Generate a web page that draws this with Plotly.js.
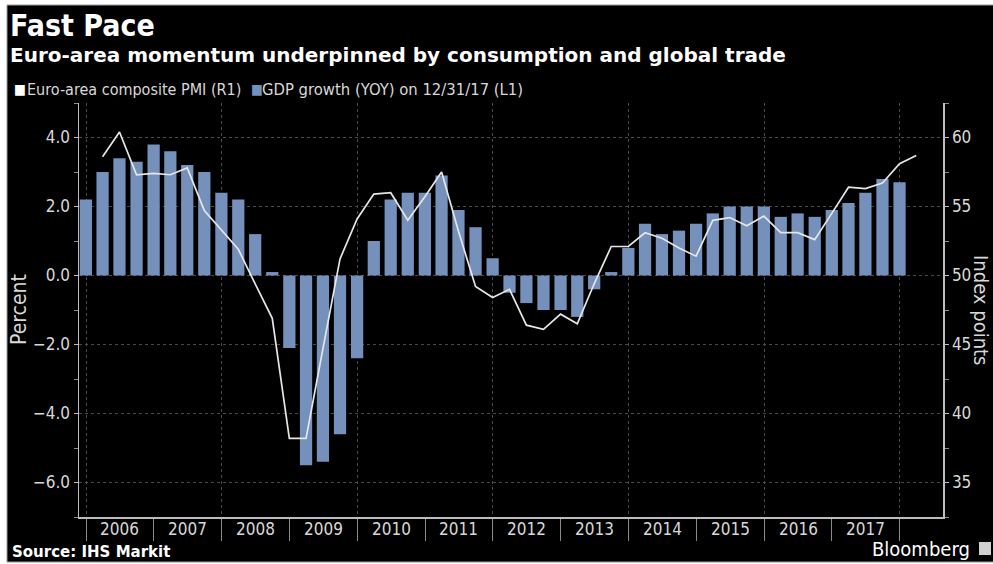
<!DOCTYPE html>
<html>
<head>
<meta charset="utf-8">
<script src="https://cdn.plot.ly/plotly-3.0.1.min.js"></script>
<style>html,body{margin:0;padding:0;background:#fff;}#chart{width:993px;height:564px;}</style>
</head>
<body>
<div id="chart"></div>
<script>
// Quarter-end dates (Q4 2005 .. Q1 2018)
const quarterEnds = [
  '2005-12-31',
  '2006-03-31','2006-06-30','2006-09-30','2006-12-31',
  '2007-03-31','2007-06-30','2007-09-30','2007-12-31',
  '2008-03-31','2008-06-30','2008-09-30','2008-12-31',
  '2009-03-31','2009-06-30','2009-09-30','2009-12-31',
  '2010-03-31','2010-06-30','2010-09-30','2010-12-31',
  '2011-03-31','2011-06-30','2011-09-30','2011-12-31',
  '2012-03-31','2012-06-30','2012-09-30','2012-12-31',
  '2013-03-31','2013-06-30','2013-09-30','2013-12-31',
  '2014-03-31','2014-06-30','2014-09-30','2014-12-31',
  '2015-03-31','2015-06-30','2015-09-30','2015-12-31',
  '2016-03-31','2016-06-30','2016-09-30','2016-12-31',
  '2017-03-31','2017-06-30','2017-09-30','2017-12-31',
  '2018-03-31'
];
const gdpDates = quarterEnds.slice(0, 49);
const pmiDates = quarterEnds.slice(1);

// GDP growth (YoY, %), Q4 2005 .. Q4 2017
const gdpGrowth = [
  2.2,
  3.0, 3.4, 3.3, 3.8,
  3.6, 3.2, 3.0, 2.4,
  2.2, 1.2, 0.1, -2.1,
  -5.5, -5.4, -4.6, -2.4,
  1.0, 2.2, 2.4, 2.4,
  2.9, 1.9, 1.4, 0.5,
  -0.5, -0.8, -1.0, -1.0,
  -1.2, -0.4, 0.1, 0.8,
  1.5, 1.2, 1.3, 1.5,
  1.8, 2.0, 2.0, 2.0,
  1.7, 1.8, 1.7, 1.9,
  2.1, 2.4, 2.8, 2.7
];

// Euro-area composite PMI (index points), Q1 2006 .. Q1 2018
const compositePMI = [
  58.6, 60.4, 57.3, 57.4,
  57.3, 57.8, 54.7, 53.3,
  51.9, 49.4, 46.9, 38.2,
  38.2, 44.7, 51.2, 54.1,
  55.9, 56.0, 54.0, 55.7,
  57.5, 53.2, 49.2, 48.4,
  49.0, 46.4, 46.1, 47.2,
  46.5, 49.4, 52.1, 52.1,
  53.1, 52.7, 52.0, 51.4,
  54.0, 54.2, 53.6, 54.3,
  53.1, 53.1, 52.6, 54.5,
  56.4, 56.3, 56.7, 58.1,
  58.7
];

// Year labels placed mid-period, tick marks at year boundaries
const yearLabels = ['2006','2007','2008','2009','2010','2011','2012','2013','2014','2015','2016','2017'];
const yearMidDates = ['2006-07-02','2007-07-02','2008-07-02','2009-07-02','2010-07-02','2011-07-02',
                      '2012-07-02','2013-07-02','2014-07-02','2015-07-02','2016-07-02','2017-07-02'];
const evenYearStarts = ['2006-01-01','2008-01-01','2010-01-01','2012-01-01','2014-01-01','2016-01-01','2018-01-01'];
const oddYearStarts = ['2007-01-01','2009-01-01','2011-01-01','2013-01-01','2015-01-01','2017-01-01'];

const BAR = '#7490bb';
const TXT = '#d8d8d8';
const GRID = '#4a4a4a';
const AXL = '#bdbdbd';
const FONT = '"DejaVu Sans Condensed", "DejaVu Sans", sans-serif';
const WIDE = '"DejaVu Sans", sans-serif';

const W = 993, H = 564, ML = 79, MR = 50, MT = 103, MB = 47;
const PW = W - ML - MR, PH = H - MT - MB;
const px = p => (p - ML) / PW;          // pixel x -> paper x
const py = p => (H - MB - p) / PH;      // pixel y -> paper y

const traces = [
  {
    type: 'bar', x: gdpDates, y: gdpGrowth, name: 'GDP growth (YOY) on 12/31/17 (L1)',
    marker: {color: BAR, line: {width: 0}}, width: 5.7e9, yaxis: 'y', hoverinfo: 'x+y'
  },
  {
    type: 'scatter', mode: 'lines', x: pmiDates, y: compositePMI, name: 'Euro-area composite PMI (R1)',
    line: {color: '#e6e6e6', width: 1.7}, yaxis: 'y2'
  }
];

const annotations = [
  {text: '<b>Fast Pace</b>', x: px(8), y: py(25), xref: 'paper', yref: 'paper', xanchor: 'left', yanchor: 'middle', showarrow: false,
   font: {family: FONT, size: 30, color: '#ffffff'}},
  {text: '<b>Euro-area momentum underpinned by consumption and global trade</b>', x: px(8), y: py(55), xref: 'paper', yref: 'paper',
   xanchor: 'left', yanchor: 'middle', showarrow: false, font: {family: WIDE, size: 20, color: '#ffffff'}},
  {text: '■', x: px(12), y: py(89), xref: 'paper', yref: 'paper', xanchor: 'left', yanchor: 'middle', showarrow: false,
   font: {family: FONT, size: 14, color: '#ffffff'}},
  {text: 'Euro-area composite PMI (R1)', x: px(25), y: py(89), xref: 'paper', yref: 'paper', xanchor: 'left', yanchor: 'middle', showarrow: false,
   font: {family: FONT, size: 16, color: TXT}},
  {text: '■', x: px(249), y: py(89), xref: 'paper', yref: 'paper', xanchor: 'left', yanchor: 'middle', showarrow: false,
   font: {family: FONT, size: 14, color: BAR}},
  {text: 'GDP growth (YOY) on 12/31/17 (L1)', x: px(260), y: py(89), xref: 'paper', yref: 'paper', xanchor: 'left', yanchor: 'middle', showarrow: false,
   font: {family: FONT, size: 16.5, color: TXT}},
  {text: 'Percent', x: px(19), y: 0.5, xref: 'paper', yref: 'paper', xanchor: 'center', yanchor: 'middle', textangle: -90, showarrow: false,
   font: {family: FONT, size: 21, color: TXT}},
  {text: 'Index points', x: px(981), y: 0.5, xref: 'paper', yref: 'paper', xanchor: 'center', yanchor: 'middle', textangle: 90, showarrow: false,
   font: {family: FONT, size: 20, color: TXT}},
  {text: '<b>Source: IHS Markit</b>', x: px(10), y: py(552), xref: 'paper', yref: 'paper', xanchor: 'left', yanchor: 'middle', showarrow: false,
   font: {family: WIDE, size: 15, color: '#ffffff'}},
  {text: 'Bloomberg', x: px(972), y: py(549), xref: 'paper', yref: 'paper', xanchor: 'right', yanchor: 'middle', showarrow: false,
   font: {family: FONT, size: 20, color: '#ffffff'}}
];
yearLabels.forEach((lab, i) => annotations.push({
  text: lab, x: yearMidDates[i], y: py(529), xref: 'x', yref: 'paper', xanchor: 'center', yanchor: 'middle', showarrow: false,
  font: {family: FONT, size: 17, color: TXT}
}));

const layout = {
  width: W, height: H,
  margin: {l: ML, r: MR, t: MT, b: MB, pad: 0},
  paper_bgcolor: '#ffffff', plot_bgcolor: '#000000',
  showlegend: false, bargap: 0.27,
  font: {family: FONT, color: TXT},
  xaxis: {
    type: 'date', range: ['2005-11-24', '2018-08-22'],
    tickmode: 'array', tickvals: evenYearStarts, showticklabels: false,
    ticks: 'outside', ticklen: 22, tickwidth: 1, tickcolor: '#8a8a8a',
    showgrid: true, gridcolor: GRID, griddash: 'dot', gridwidth: 1,
    minor: {tickmode: 'array', tickvals: oddYearStarts, ticks: 'outside', ticklen: 22, tickwidth: 1, tickcolor: '#8a8a8a', showgrid: false},
    showline: true, linecolor: AXL, linewidth: 1.5, zeroline: false, fixedrange: true
  },
  yaxis: {
    range: [-7, 5], tickmode: 'linear', tick0: 0, dtick: 2, tickformat: '.1f',
    ticks: 'outside', ticklen: 4, tickcolor: AXL, tickwidth: 1,
    minor: {dtick: 1, tick0: 0, ticks: 'outside', ticklen: 4, tickcolor: '#8a8a8a', showgrid: false},
    showgrid: true, gridcolor: GRID, griddash: 'dot', gridwidth: 1,
    showline: true, linecolor: AXL, linewidth: 1.5, zeroline: false,
    tickfont: {family: FONT, size: 17, color: TXT}, fixedrange: true
  },
  yaxis2: {
    overlaying: 'y', side: 'right', range: [32.5, 62.5], tickmode: 'linear', tick0: 35, dtick: 5,
    ticks: 'outside', ticklen: 4, tickcolor: AXL, tickwidth: 1,
    minor: {dtick: 2.5, tick0: 35, ticks: 'outside', ticklen: 4, tickcolor: '#8a8a8a', showgrid: false},
    showgrid: false, showline: true, linecolor: AXL, linewidth: 1.5, zeroline: false,
    tickfont: {family: FONT, size: 17, color: TXT}, fixedrange: true
  },
  shapes: [
    {type: 'rect', xref: 'paper', yref: 'paper', x0: px(7), x1: px(995), y0: py(562), y1: py(5),
     fillcolor: '#000000', line: {color: '#9a9a9a', width: 1}, layer: 'below'},
    {type: 'rect', xref: 'paper', yref: 'paper', x0: px(979), x1: px(991), y0: py(555), y1: py(542),
     fillcolor: '#d0d0d0', line: {width: 0}, layer: 'above'}
  ],
  annotations: annotations
};

Plotly.newPlot('chart', traces, layout, {displayModeBar: false, staticPlot: true});
</script>
</body>
</html>
